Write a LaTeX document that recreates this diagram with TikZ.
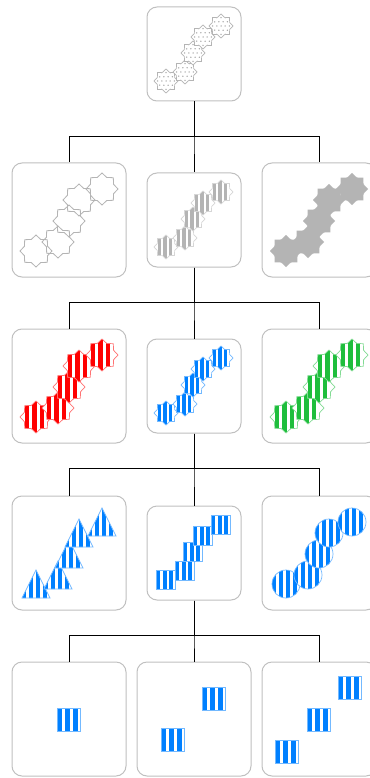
\documentclass[tikz,border=0pt]{standalone}
\definecolor{boxgray}{RGB}{192,192,192}
\definecolor{shgray}{RGB}{180,180,180}
\definecolor{dotgray}{RGB}{165,165,165}
\definecolor{myred}{RGB}{255,0,0}
\definecolor{myblue}{RGB}{0,128,255}
\definecolor{mygreen}{RGB}{30,190,60}
\tikzset{
  box/.style={draw=boxgray, line width=1pt, rounded corners=10pt, inner sep=0pt, fill=white},
  bigbox/.style={box, minimum width=114pt, minimum height=114pt},
  smallbox/.style={box, minimum width=94pt, minimum height=94pt},
  link/.style={draw=black, line width=0.9pt},
  shp/star/.style={insert path={plot[samples at={0,...,15},variable=\k] ({22.5*\k}:{#1*(1-0.22*mod(\k,2))}) -- cycle}},
  shp/sq/.style={insert path={({-#1/2},{-#1/2}) rectangle ({#1/2},{#1/2})}},
  shp/circ/.style={insert path={(0,0) circle[radius={#1/2}]}},
  shp/tri/.style={insert path={({-#1/2},{#1/2}) -- (0,{-#1/2}) -- ({#1/2},{#1/2}) -- cycle}},
}
% #1 x, #2 y, #3 type, #4 size, #5 colour, #6 period, #7 start, #8 stripe range
\newcommand\StripeShp[8]{%
  \begin{scope}[shift={({#1},{#2})}]
    \fill[white, shp/#3=#4];
    \begin{scope}
      \clip[shp/#3=#4];
      \foreach \i in {#8}{\fill[#5] ({#7+\i*#6},-40) rectangle ({#7+\i*#6+0.6*#6},40);}
    \end{scope}
    \draw[#5!55, line width=0.7pt, shp/#3=#4];
  \end{scope}}
\newcommand\DotShp[3]{%
  \begin{scope}[shift={({#1},{#2})}]
    \fill[white, shp/star=#3];
    \begin{scope}
      \clip[shp/star=#3];
      \foreach \a in {-4,...,4}{\foreach \b in {-4,...,4}{\fill[dotgray] ({\a*4.2+mod(abs(\b),2)*2.1},{\b*4.2}) circle[radius=0.75];}}
    \end{scope}
    \draw[shgray, line width=0.7pt, shp/star=#3];
  \end{scope}}
\newcommand\OutlineShp[3]{%
  \begin{scope}[shift={({#1},{#2})}]
    \draw[shgray, line width=0.8pt, shp/star=#3];
  \end{scope}}
\newcommand\SolidShp[3]{%
  \begin{scope}[shift={({#1},{#2})}]
    \fill[shgray, shp/star=#3];
  \end{scope}}
\def\soff{-28/27,-9/18,-1/-1,9/-17,27/-28}
\def\loff{-33/31,-11/22,0/1,10/-20,33/-31}
\begin{document}
\begin{tikzpicture}[x=1pt,y=-1pt]
\useasboundingbox (0,0) rectangle (369,778);
% boxes
\node[smallbox] (a) at (194,54) {};
\node[bigbox] (b1) at (69,220) {};
\node[smallbox] (b2) at (194,220) {};
\node[bigbox] (b3) at (319,220) {};
\node[bigbox] (c1) at (69,386) {};
\node[smallbox] (c2) at (194,386) {};
\node[bigbox] (c3) at (319,386) {};
\node[bigbox] (d1) at (69,553) {};
\node[smallbox] (d2) at (194,553) {};
\node[bigbox] (d3) at (319,553) {};
\node[bigbox] (e1) at (69,719) {};
\node[bigbox] (e2) at (194,719) {};
\node[bigbox] (e3) at (319,719) {};
% connectors
\foreach \c in {b1,b2,b3}{\draw[link] (a.south) -- ++(0,35) -| (\c.north);}
\foreach \c in {c1,c2,c3}{\draw[link] (b2.south) -- ++(0,35) -| (\c.north);}
\foreach \c in {d1,d2,d3}{\draw[link] (c2.south) -- ++(0,35) -| (\c.north);}
\foreach \c in {e1,e2,e3}{\draw[link] (d2.south) -- ++(0,35) -| (\c.north);}
% row 1
\foreach \dx/\dy in \soff {\DotShp{194+\dx}{54+\dy}{12}}
% row 2
\foreach \dx/\dy in \loff {\OutlineShp{69+\dx}{220+\dy}{16}}
\foreach \dx/\dy in \soff {\StripeShp{194+\dx}{220+\dy}{star}{12}{shgray}{5.66}{-8.5}{0,1,2}}
\foreach \dx/\dy in \loff {\SolidShp{319+\dx}{220+\dy}{16}}
% row 3
\foreach \dx/\dy in \loff {\StripeShp{69+\dx}{386+\dy}{star}{16}{myred}{7.54}{-11.3}{0,1,2}}
\foreach \dx/\dy in \soff {\StripeShp{194+\dx}{386+\dy}{star}{12}{myblue}{5.66}{-8.5}{0,1,2}}
\foreach \dx/\dy in \loff {\StripeShp{319+\dx}{386+\dy}{star}{16}{mygreen}{7.54}{-11.3}{0,1,2}}
% row 4
\foreach \dx/\dy in \loff {\StripeShp{69+\dx}{553+\dy}{tri}{28}{myblue}{7}{-14}{0,...,3}}
\foreach \dx/\dy in \soff {\StripeShp{194+\dx}{553+\dy}{sq}{19}{myblue}{6.33}{-9.5}{0,1,2}}
\foreach \dx/\dy in \loff {\StripeShp{319+\dx}{553+\dy}{circ}{28}{myblue}{7}{-14}{0,...,3}}
% row 5
\StripeShp{69}{720}{sq}{23.5}{myblue}{7.83}{-11.75}{0,1,2}
\StripeShp{173}{740}{sq}{23.5}{myblue}{7.83}{-11.75}{0,1,2}
\StripeShp{214}{699}{sq}{23.5}{myblue}{7.83}{-11.75}{0,1,2}
\StripeShp{287}{752}{sq}{23.5}{myblue}{7.83}{-11.75}{0,1,2}
\StripeShp{319}{720}{sq}{23.5}{myblue}{7.83}{-11.75}{0,1,2}
\StripeShp{350}{688}{sq}{23.5}{myblue}{7.83}{-11.75}{0,1,2}
\end{tikzpicture}
\end{document}
